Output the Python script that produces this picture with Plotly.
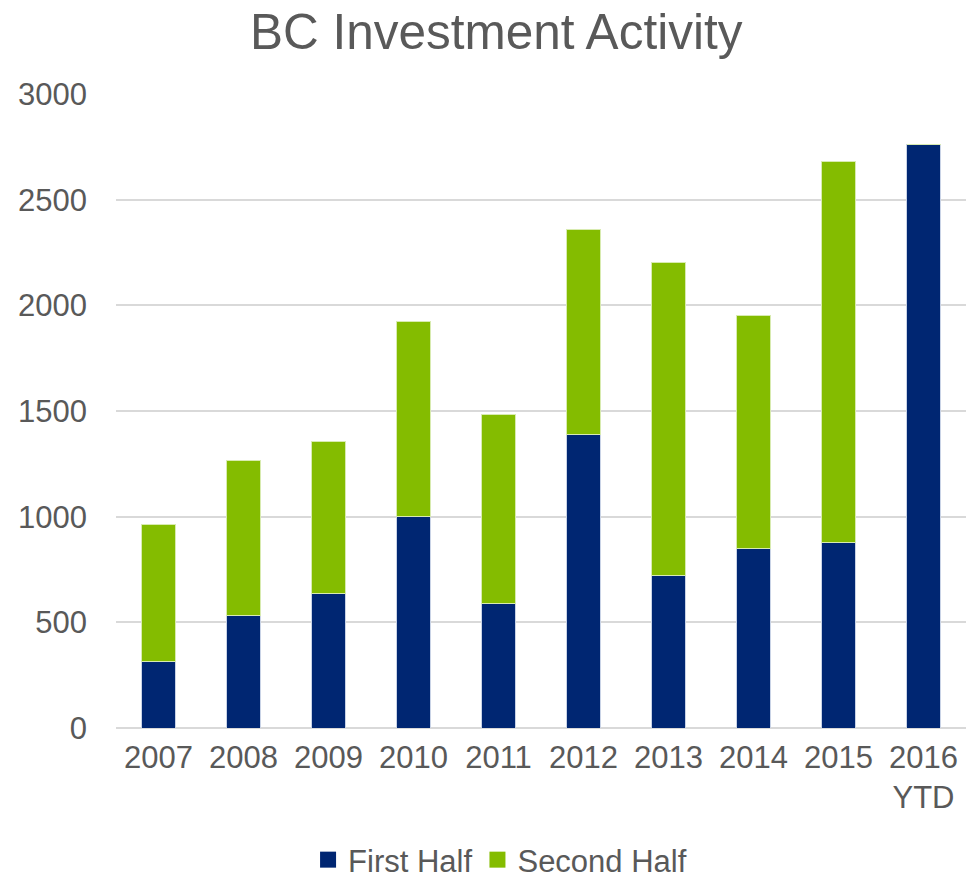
import plotly.graph_objects as go

categories = ["2007", "2008", "2009", "2010", "2011", "2012", "2013", "2014", "2015", "2016<br>YTD"]
first_half = [313, 530, 638, 1000, 591, 1389, 722, 850, 876, 2763]
totals = [962, 1264, 1354, 1923, 1483, 2357, 2203, 1951, 2679, 2763]
second_half = [t - f for t, f in zip(totals, first_half)]
series_names = ["First Half", "Second Half"]

NAVY = "#002672"
GREEN = "#84BC00"
TEXT = "#595959"
FONT = "Liberation Sans, Arial, sans-serif"

fig = go.Figure()
fig.add_trace(go.Bar(x=categories, y=first_half, name=series_names[0], showlegend=False,
                     marker=dict(color=NAVY, line=dict(color="#c9d3e6", width=1))))
fig.add_trace(go.Bar(x=categories, y=second_half, name=series_names[1], showlegend=False,
                     marker=dict(color=GREEN, line=dict(color="#d8ebb0", width=1))))
# legend entries with larger square swatches
for nm, col in zip(series_names, [NAVY, GREEN]):
    fig.add_trace(go.Scatter(x=[None], y=[None], mode="markers", name=nm,
                             marker=dict(symbol="square", size=16, color=col)))

fig.update_layout(
    barmode="stack",
    bargap=0.6,
    width=971, height=876,
    margin=dict(l=116, r=5, t=94, b=148),
    paper_bgcolor="white", plot_bgcolor="white",
    font=dict(family=FONT, color=TEXT, size=31),
    title=dict(text="BC Investment Activity", x=0.511, xanchor="center",
               y=1 - 32 / 876, yanchor="middle", yref="container",
               font=dict(size=49.5, color=TEXT, family=FONT)),
    xaxis=dict(showgrid=False, showline=False, ticks="", tickfont=dict(size=31, color=TEXT),
               ticklabelstandoff=8, automargin=False),
    yaxis=dict(range=[0, 3000], dtick=500, showgrid=True, gridcolor="#d9d9d9", gridwidth=1.5,
               zeroline=True, zerolinecolor="#d9d9d9", zerolinewidth=1.5, automargin=False,
               ticks="", tickfont=dict(size=31, color=TEXT), ticklabelstandoff=28),
    legend=dict(orientation="h", x=0.515, xref="container", xanchor="center",
                y=1 - 860 / 876, yref="container", yanchor="middle",
                font=dict(size=31, color=TEXT), traceorder="normal", itemwidth=30),
)

fig.write_html("out.html")
